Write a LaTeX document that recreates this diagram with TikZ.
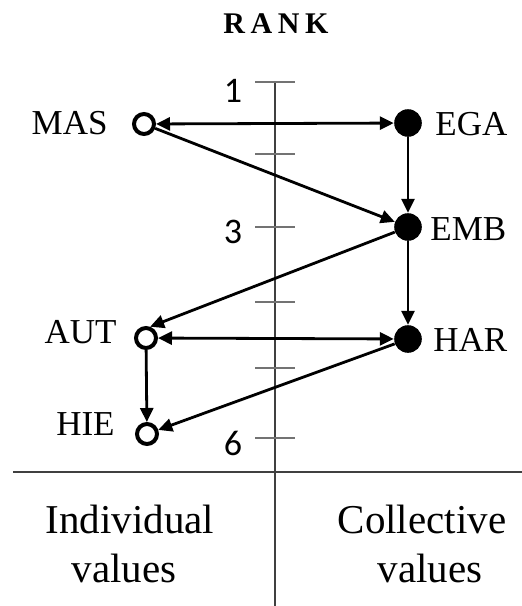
\documentclass[tikz,border=0pt]{standalone}
\usepackage{fontspec}
\setmainfont{Liberation Serif}
\newfontfamily\numfont{Carlito}
\usetikzlibrary{arrows.meta}
\begin{document}
\begin{tikzpicture}[x=0.5pt,y=-0.5pt,
  opendot/.style={circle,draw=black,fill=white,line width=2pt,minimum size=10pt,inner sep=0pt},
  fulldot/.style={circle,fill=black,minimum size=13.8pt,inner sep=0pt},
  lab/.style={font=\fontsize{17.5}{20}\selectfont,inner sep=0pt},
  num/.style={font=\numfont\fontsize{18}{20}\selectfont,inner sep=0pt},
  cat/.style={font=\fontsize{20.5}{24}\selectfont,inner sep=0pt,anchor=base},
  axis/.style={line width=0.9pt,draw=black!75},
  tickmark/.style={line width=0.9pt,draw=black!55},
  conn/.style={line width=1.4pt,-{Triangle[length=7pt,width=6.5pt]}},
  biconn/.style={line width=1.4pt,{Triangle[length=7pt,width=6.5pt]}-{Triangle[length=7pt,width=6.5pt]}}
]
\useasboundingbox (0,0) rectangle (522,606);
% axes
\coordinate (atop) at (275,82);
\coordinate (abot) at (275,606);
\coordinate (hl) at (13,472);
\coordinate (hr) at (522,472);
\draw[axis] (atop) -- (abot);
\draw[axis] (hl) -- (hr);
\foreach \yy in {82,154,227,302,368,438}{
  \draw[tickmark] (255,\yy) -- (295,\yy);
}
% rank numbers
\node[num] (n1) at (233,91) {1};
\node[num] (n3) at (233,232) {3};
\node[num] (n6) at (233,443) {6};
% title
\node[font=\bfseries\fontsize{15}{17}\selectfont,inner sep=0pt] (rank) at (276,24) {R\kern2.8pt A\kern2.8pt N\kern2.8pt K};
% dots
\node[opendot] (mas) at (144,124) {};
\node[fulldot] (ega) at (408,123) {};
\node[fulldot] (emb) at (408,227) {};
\node[fulldot] (har) at (408,339) {};
\node[opendot] (aut) at (146,338) {};
\node[opendot] (hie) at (147,434) {};
% labels
\node[lab,anchor=east] (lmas) at (108,123) {MAS};
\node[lab,anchor=west] (lega) at (435,124) {EGA};
\node[lab,anchor=west] (lemb) at (430,229) {EMB};
\node[lab,anchor=west] (lhar) at (433,340) {HAR};
\node[lab,anchor=east] (laut) at (117,332) {AUT};
\node[lab,anchor=east] (lhie) at (115,424) {HIE};
% connectors
\draw[biconn] (mas) -- (ega);
\draw[conn] (mas) -- (emb);
\draw[conn] (ega) -- (emb);
\draw[conn] (emb) -- (aut.70);
\draw[conn] (emb) -- (har);
\draw[biconn] (aut) -- (har);
\draw[conn] (aut) -- (hie);
\draw[conn] (har) -- (hie);
% categories
\node[cat] (ind1) at (130,533) {Individual};
\node[cat] (ind2) at (124,582) {values};
\node[cat] (col1) at (422,533) {Collective};
\node[cat] (col2) at (430,582) {values};
\end{tikzpicture}
\end{document}
